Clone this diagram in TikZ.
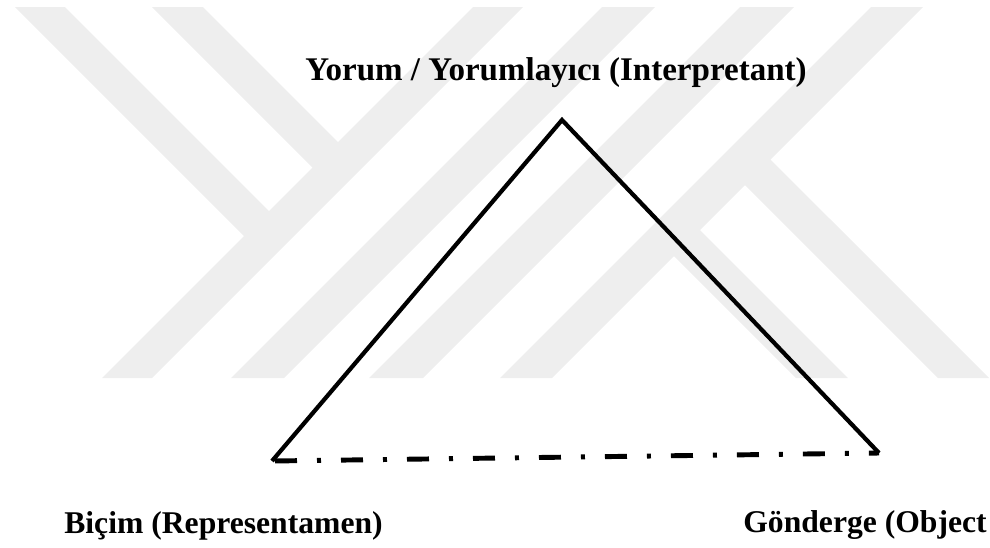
\documentclass[tikz,border=0pt]{standalone}
\usepackage{fontspec}
\setmainfont{Liberation Serif}
\definecolor{wmark}{RGB}{238,238,238}
\tikzset{
  band/.style={fill=wmark,draw=none},
  kenar/.style={line width=2.4pt,line join=miter},
  kesik/.style={line width=2.8pt,dash pattern=on 0.44cm off 0.4cm on 0.08cm off 0.4cm,dash phase=1.26cm},
  etiket/.style={font=\fontsize{18}{22}\selectfont\bfseries,inner sep=0pt}
}
\begin{document}
\begin{tikzpicture}
[x=0.2mm,y=-0.2mm]
\useasboundingbox (0,0) rectangle (990,547);

\fill[band] (15,7) -- (65,7) -- (281,223) -- (256,248) -- cycle;
\fill[band] (152,7) -- (203,7) -- (350,154) -- (325,180) -- cycle;
\fill[band] (473,7) -- (523,7) -- (152,378) -- (102,378) -- cycle;
\fill[band] (602,7) -- (655,7) -- (284,378) -- (231,378) -- cycle;
\fill[band] (740,7) -- (794,7) -- (423,378) -- (369,378) -- cycle;
\fill[band] (871,7) -- (923,7) -- (552,378) -- (500,378) -- cycle;
\fill[band] (732,172) -- (757,146) -- (989,378) -- (938,378) -- cycle;
\fill[band] (661,243) -- (687,217) -- (848,378) -- (796,378) -- cycle;

\coordinate (Y) at (562,120);
\coordinate (B) at (272,461);
\coordinate (G) at (879,453);

\draw[kenar] (B) -- (Y) -- (G);
\draw[kesik] (B) -- (G);

\node[etiket,font=\fontsize{18.8}{22}\selectfont\bfseries,anchor=base] (yorum) at (556,80) {Yorum / Yorumlayıcı (Interpretant)};
\node[etiket,anchor=base west] (bicim) at (64,533) {Biçim (Representamen)};
\node[etiket,anchor=base west] (gonderge) at (743,532) {Gönderge (Object};
\end{tikzpicture}
\end{document}
